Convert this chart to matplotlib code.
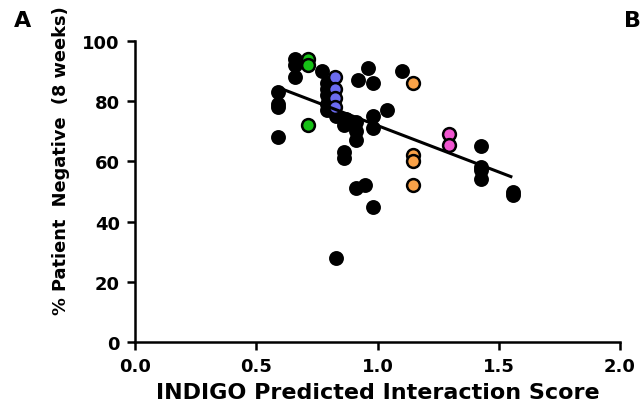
import matplotlib.pyplot as plt
import numpy as np

# the source figure's lettering is wide, DejaVu Sans Bold matches its footprint
plt.rcParams['font.family'] = ['DejaVu Sans']
plt.rcParams['font.weight'] = 'bold'

# black points (other combinations)
black_x = [0.59, 0.59, 0.59, 0.59,
           0.66, 0.66, 0.66,
           0.77, 0.79, 0.79, 0.79, 0.79, 0.79,
           0.83, 0.83,
           0.87, 0.86, 0.86, 0.86,
           0.91, 0.91, 0.91, 0.91,
           0.92, 0.96, 0.98,
           0.95, 0.98, 0.98, 0.98,
           1.04, 1.10,
           1.425, 1.425, 1.425, 1.425,
           1.56, 1.56]
black_y = [83, 79, 78, 68,
           94, 92, 88,
           90, 86, 84, 82, 79, 77,
           75, 28,
           74, 72, 63, 61,
           73, 70, 67, 51,
           87, 91, 86,
           52, 75, 71, 45,
           77, 90,
           65, 58, 57, 54,
           50, 49]

green_x = [0.715, 0.715, 0.715]
green_y = [94, 92, 72]
blue_x = [0.826, 0.826, 0.826, 0.826]
blue_y = [88, 84, 81, 78]
orange_x = [1.145, 1.145, 1.145, 1.145]
orange_y = [86, 62, 60, 52]
pink_x = [1.295, 1.295]
pink_y = [69, 65.5]

fig = plt.figure(figsize=(6.4, 4.14), dpi=100)
ax = fig.add_axes([135/640, 1-343/414, 485/640, 301/414])

ms = 85
ax.scatter(black_x, black_y, s=ms, c='black', edgecolors='black', linewidths=1.5, zorder=3, clip_on=False)
ax.scatter(green_x, green_y, s=ms, c='#16c016', edgecolors='black', linewidths=1.8, zorder=4)
ax.scatter(blue_x, blue_y, s=ms, c='#6b6bf0', edgecolors='black', linewidths=1.8, zorder=4)
ax.scatter(orange_x, orange_y, s=ms, c='#f9a248', edgecolors='black', linewidths=1.8, zorder=4)
ax.scatter(pink_x, pink_y, s=ms, c='#f055d0', edgecolors='black', linewidths=1.8, zorder=4)

# linear fit across all points
all_x = np.array(black_x + green_x + blue_x + orange_x + pink_x)
all_y = np.array(black_y + green_y + blue_y + orange_y + pink_y)
k, b = np.polyfit(all_x, all_y, 1)
xs = np.array([all_x.min(), 1.55])
ax.plot(xs, k * xs + b + 1, color='black', lw=2.2, zorder=5)

ax.set_xlim(0, 2.0)
ax.set_ylim(0, 100)
ax.set_xticks([0.0, 0.5, 1.0, 1.5, 2.0])
ax.set_xticklabels(['0.0', '0.5', '1.0', '1.5', '2.0'])
ax.set_yticks([0, 20, 40, 60, 80, 100])
for s in ['top', 'right']:
    ax.spines[s].set_visible(False)
for s in ['left', 'bottom']:
    ax.spines[s].set_linewidth(1.8)
ax.tick_params(direction='out', length=6, width=1.8, labelsize=13, pad=5)

ax.set_xlabel('INDIGO Predicted Interaction Score', fontsize=16, fontweight='bold', labelpad=5)
fig.text(61/640, 1-161/414, '% Patient  Negative  (8 weeks)', rotation=90,
         ha='center', va='center', fontsize=12.8, fontweight='bold')

fig.text(14/640, 1-21/414, 'A', fontsize=16, fontweight='bold', ha='left', va='center')
fig.text(624/640, 1-21/414, 'B', fontsize=16, fontweight='bold', ha='left', va='center')

fig.savefig('out.png', dpi=100)
